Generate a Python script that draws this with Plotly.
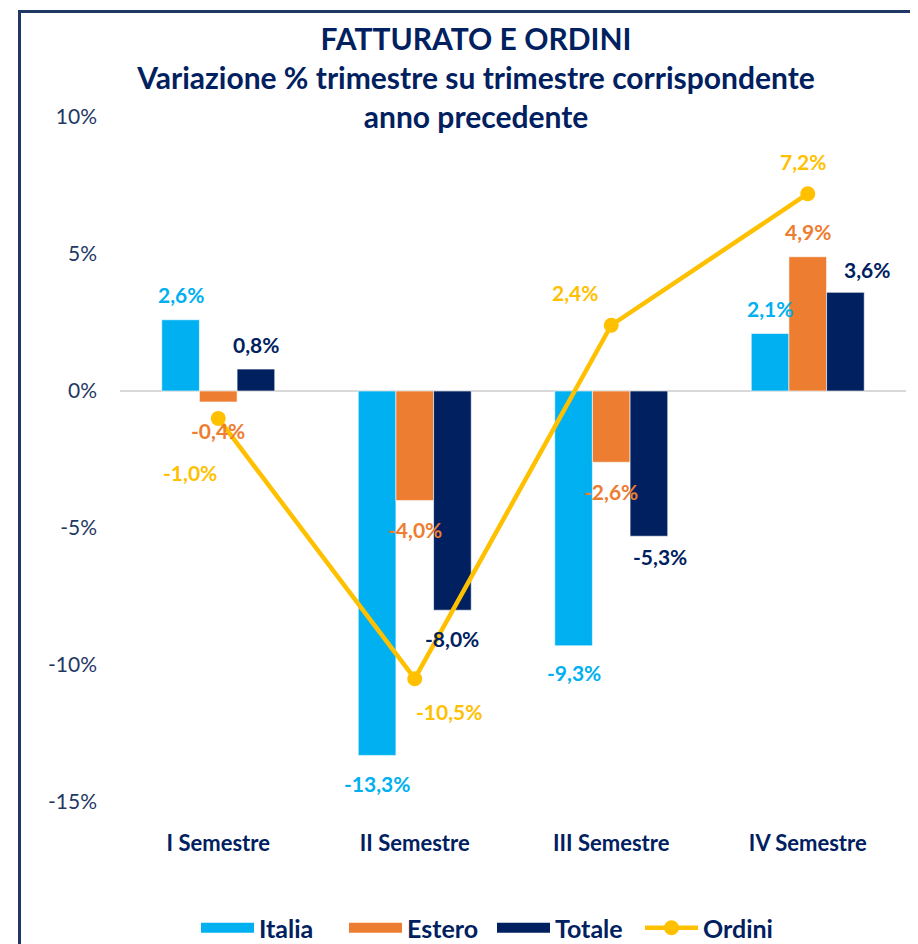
import plotly.graph_objects as go

# ---------------- data ----------------
CATEGORIES = ["I Semestre", "II Semestre", "III Semestre", "IV Semestre"]
ITALIA = [2.6, -13.3, -9.3, 2.1]
ESTERO = [-0.4, -4.0, -2.6, 4.9]
TOTALE = [0.8, -8.0, -5.3, 3.6]
ORDINI = [-1.0, -10.5, 2.4, 7.2]
Y_TICKS = [-15, -10, -5, 0, 5, 10]
Y_TICK_LABELS = ["-15%", "-10%", "-5%", "0%", "5%", "10%"]
TITLE_LINES = ["FATTURATO E ORDINI",
               "Variazione % trimestre su trimestre corrispondente",
               "anno precedente"]

# ---------------- style ----------------
C_ITALIA = "#00B0F0"
C_ESTERO = "#ED7D31"
C_TOTALE = "#002060"
C_ORDINI = "#FFC000"
NAVY = "#1F3864"
FONT = "Lato"

PAGE_OFF = 8            # default body margin of the html page
W, H = 910, 936
ML, MR, MT, MB = 112, 12, 109, 142
BARGAP = 0.425
plot_w = W - ML - MR
plot_h = H - MT - MB
bar_w = plot_w / len(CATEGORIES) * (1 - BARGAP) / 3


def fmt(v):
    return f"{v:.1f}%".replace(".", ",")


def px_x(p):
    """page pixel x -> paper coordinate"""
    return (p - PAGE_OFF - ML) / plot_w


def px_y(p):
    """page pixel y -> paper coordinate"""
    return (H - MB - (p - PAGE_OFF)) / plot_h


SERIES = [("Italia", ITALIA, C_ITALIA),
          ("Estero", ESTERO, C_ESTERO),
          ("Totale", TOTALE, C_TOTALE)]

fig = go.Figure()
for name, vals, col in SERIES:
    fig.add_trace(go.Bar(x=CATEGORIES, y=vals, name=name, legendgroup=name,
                         showlegend=False,
                         marker=dict(color=col, line=dict(color="white", width=0.6))))
    # legend swatch (wide rectangle like the original)
    fig.add_trace(go.Scatter(x=[None], y=[None], name=name, legendgroup=name,
                             mode="lines", line=dict(color=col, width=17)))

fig.add_trace(go.Scatter(x=CATEGORIES, y=ORDINI, name="Ordini", mode="lines+markers",
                         line=dict(color=C_ORDINI, width=4.5),
                         marker=dict(color=C_ORDINI, size=15)))

# label pixel offsets (dx, dy-down) relative to bar ends / points
bar_offsets = {
    "Italia": [(0, -25), (0, 28), (0, 27), (0, -25)],
    "Estero": [(0, 29), (0, 29), (0, 29), (0, -25)],
    "Totale": [(0, -25), (0, 28), (11, 20), (22, -23)],
}
ord_offsets = [(-28, 54), (35, 33), (-36, -33), (-5, -32)]

LABEL_SIZE = 21
annotations = []
for gi, (name, vals, col) in enumerate(SERIES):
    for ci, (cat, v) in enumerate(zip(CATEGORIES, vals)):
        dx, dy = bar_offsets[name][ci]
        annotations.append(dict(x=cat, y=v, xref="x", yref="y", text=fmt(v),
                                showarrow=False, xshift=(gi - 1) * bar_w + dx, yshift=-dy,
                                font=dict(family=FONT, size=LABEL_SIZE, color=col, weight=700)))
for ci, (cat, v) in enumerate(zip(CATEGORIES, ORDINI)):
    dx, dy = ord_offsets[ci]
    annotations.append(dict(x=cat, y=v, xref="x", yref="y", text=fmt(v),
                            showarrow=False, xshift=dx, yshift=-dy,
                            font=dict(family=FONT, size=LABEL_SIZE, color=C_ORDINI, weight=700)))

fig.update_layout(
    width=W, height=H,
    margin=dict(l=ML, r=MR, t=MT, b=MB, autoexpand=False),
    paper_bgcolor="white", plot_bgcolor="white",
    barmode="group", bargap=BARGAP, bargroupgap=0,
    title=dict(text="<br>".join(TITLE_LINES), xref="container", yref="container",
               x=(476 - PAGE_OFF) / W, xanchor="center", y=1 - 42 / H, yanchor="top",
               font=dict(family=FONT, size=30, color=C_TOTALE, weight=700)),
    showlegend=True,
    legend=dict(orientation="h", xanchor="center", x=px_x(492), yanchor="middle",
                y=px_y(928), font=dict(family=FONT, size=25, color=C_TOTALE, weight=700),
                traceorder="normal", itemwidth=53, tracegroupgap=0,
                entrywidth=80, entrywidthmode="pixels"),
    annotations=annotations,
    shapes=[dict(type="rect", xref="paper", yref="paper",
                 x0=px_x(19.5), x1=px_x(960), y0=px_y(11.5), y1=px_y(990),
                 line=dict(color=NAVY, width=3), layer="below")],
)
fig.update_xaxes(showgrid=False, showline=False, ticks="", ticklabelstandoff=26,
                 tickfont=dict(family=FONT, size=22, color=C_TOTALE, weight=700))
fig.update_yaxes(range=[-15, 10], tickvals=Y_TICKS, ticktext=Y_TICK_LABELS,
                 showgrid=False, showline=False, ticks="", ticklabelstandoff=22,
                 zeroline=True, zerolinecolor="#D9D9D9", zerolinewidth=2,
                 tickfont=dict(family=FONT, size=21, color=NAVY))

fig.write_html("out.html")
